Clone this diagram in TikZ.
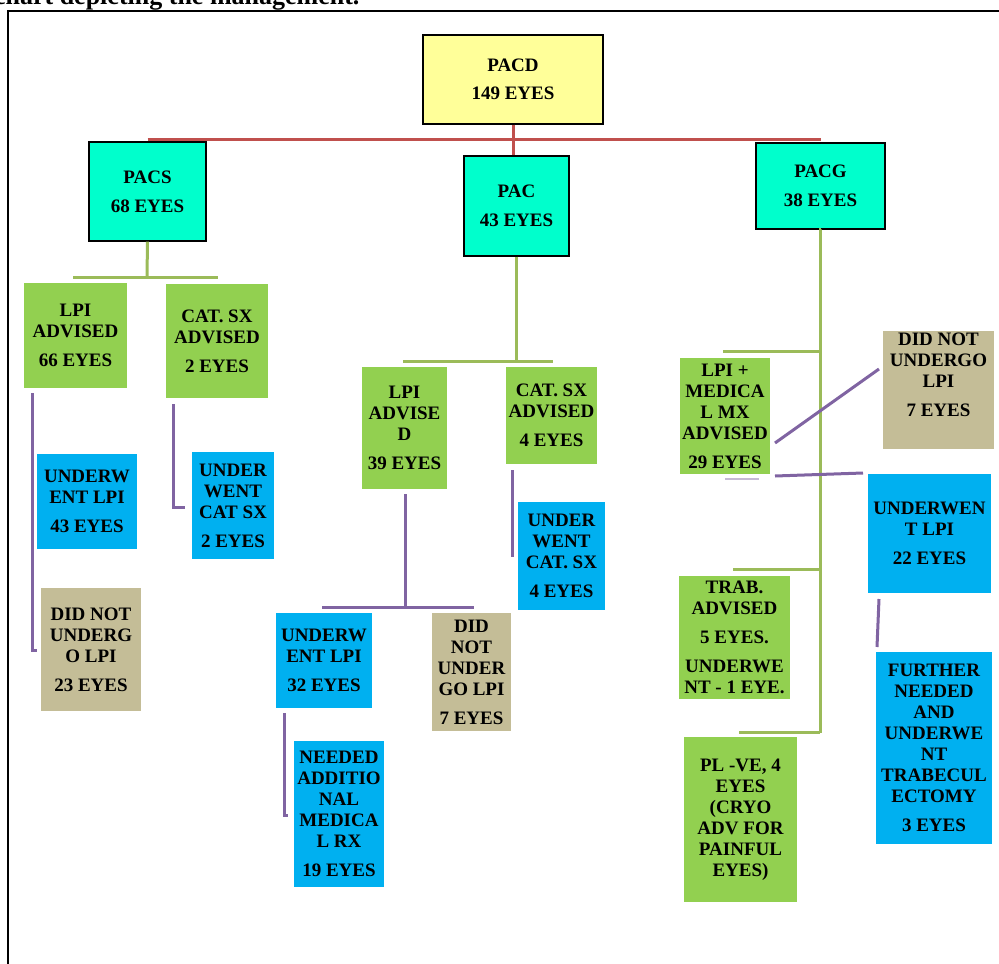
\documentclass[tikz,border=0pt]{standalone}
\usepackage{fontspec}
\setmainfont{Liberation Serif}
\usepackage{tikz}
\definecolor{PacdYel}{HTML}{FFFF99}
\definecolor{TopCyan}{HTML}{00FFCC}
\definecolor{AdvGreen}{HTML}{92D050}
\definecolor{DoneBlue}{HTML}{00B0F0}
\definecolor{NotTan}{HTML}{C4BD97}
\definecolor{RedLn}{HTML}{C0504D}
\definecolor{GrnLn}{HTML}{9BBB59}
\definecolor{PurLn}{HTML}{8064A2}
\newcommand{\flowfont}{\bfseries\fontsize{19}{21}\selectfont}
\tikzstyle{box} = [rectangle, inner sep=1pt, align=center, font=\flowfont]
\tikzstyle{topbox} = [box, draw=black, line width=1.2pt]
\tikzstyle{redln} = [draw=RedLn, line width=3pt]
\tikzstyle{grnln} = [draw=GrnLn, line width=3pt]
\tikzstyle{purln} = [draw=PurLn, line width=3pt]

\begin{document}
\begin{tikzpicture}[x=1pt,y=-1pt]
			\useasboundingbox (0,0) rectangle (999,964);
			\node[anchor=base east, font=\bfseries\fontsize{26}{28}\selectfont] (ttl) at (363,4) {Flow chart depicting the management.};
			\draw[line width=2pt] (8,980) -- (8,11) -- (1010,11);
			% top level
			\node[topbox, fill=PacdYel, minimum width=180, minimum height=89] (pacd) at (513,79.5) {PACD\\[7pt]149 EYES};
			\node[topbox, fill=TopCyan, minimum width=117, minimum height=99] (pacs) at (147.5,191.5) {PACS\\[8pt]68 EYES};
			\node[topbox, fill=TopCyan, minimum width=105, minimum height=100] (pac) at (516.5,206) {PAC\\[8pt]43 EYES};
			\node[topbox, fill=TopCyan, minimum width=129, minimum height=86] (pacg) at (820.5,186) {PACG\\[8pt]38 EYES};
			\coordinate (rbus) at (513,139);
			\draw[redln] (pacs.north |- rbus) -- (pacg.north |- rbus);
			\draw[redln] (pacd.south) -- (pacd.south |- pac.north);
			% PACS branch
			\node[box, fill=AdvGreen, minimum width=103, minimum height=105] (lpiA) at (75.5,335.5) {LPI\\ADVISED\\[8pt]66 EYES};
			\node[box, fill=AdvGreen, minimum width=102, minimum height=114] (catA) at (217,341) {CAT.\ SX\\ADVISED\\[8pt]2 EYES};
			\node[box, fill=DoneBlue, minimum width=100, minimum height=95] (ulpiA) at (87,501.5) {UNDERW\\ENT LPI\\[8pt]43 EYES};
			\node[box, fill=NotTan, minimum width=100, minimum height=123] (dnuA) at (91,649.5) {DID NOT\\UNDERG\\O LPI\\[8pt]23 EYES};
			\node[box, fill=DoneBlue, minimum width=82, minimum height=107] (ucatA) at (233,505.5) {UNDER\\WENT\\CAT SX\\[8pt]2 EYES};
			\coordinate (gA) at (147,277);
			\coordinate (gAl) at (73,277);
			\coordinate (gAr) at (218,277);
			\draw[grnln] (pacs.south) -- (gA);
			\draw[grnln] (gAl) -- (gAr);
			\coordinate (pA1) at (32,393);
			\coordinate (pA2) at (32,650);
			\draw[purln] (pA1) -- (pA2) -- ++(5,0);
			\coordinate (pA3) at (173,404);
			\coordinate (pA4) at (173,507);
			\draw[purln] (pA3) -- (pA4) -- ++(12,0);
			% PAC branch
			\node[box, fill=AdvGreen, minimum width=85, minimum height=122] (lpiB) at (404.5,428) {LPI\\ADVISE\\D\\[8pt]39 EYES};
			\node[box, fill=AdvGreen, minimum width=91, minimum height=97] (catB) at (551.5,415.5) {CAT.\ SX\\ADVISED\\[8pt]4 EYES};
			\node[box, fill=DoneBlue, minimum width=96, minimum height=95] (ulpiB) at (324,660.5) {UNDERW\\ENT LPI\\[8pt]32 EYES};
			\node[box, fill=NotTan, minimum width=79, minimum height=118] (dnuB) at (471.5,672) {DID\\NOT\\UNDER\\GO LPI\\[8pt]7 EYES};
			\node[box, fill=DoneBlue, minimum width=90, minimum height=146] (needB) at (339,814) {NEEDED\\ADDITIO\\NAL\\MEDICA\\L RX\\[8pt]19 EYES};
			\node[box, fill=DoneBlue, minimum width=87, minimum height=108] (ucatB) at (561.5,556) {UNDER\\WENT\\CAT.\ SX\\[8pt]4 EYES};
			\coordinate (gB) at (516,361);
			\coordinate (gBl) at (403,361);
			\coordinate (gBr) at (553,361);
			\draw[grnln] (pac.south) -- (pac.south |- gB);
			\draw[grnln] (gBl) -- (gBr);
			\coordinate (pB1) at (405,494);
			\coordinate (pB2) at (405,607);
			\coordinate (pBl) at (322,607);
			\coordinate (pBr) at (474,607);
			\draw[purln] (pB1) -- (pB2);
			\draw[purln] (pBl) -- (pBr);
			\coordinate (pB3) at (284,713);
			\coordinate (pB4) at (284,815);
			\draw[purln] (pB3) -- (pB4) -- ++(4,0);
			\coordinate (pB5) at (512,470);
			\coordinate (pB6) at (512,557);
			\draw[purln] (pB5) -- (pB6);
			% PACG branch
			\node[box, fill=AdvGreen, minimum width=90, minimum height=116] (lpiC) at (725,416) {LPI +\\MEDICA\\L MX\\ADVISED\\[8pt]29 EYES};
			\node[box, fill=NotTan, minimum width=111, minimum height=118] (dnuC) at (938.5,390) {DID NOT\\UNDERGO\\LPI\\[8pt]7 EYES\\[9pt]~};
			\node[box, fill=DoneBlue, minimum width=123, minimum height=119] (ulpiC) at (929.5,533.5) {UNDERWEN\\T LPI\\[8pt]22 EYES};
			\node[box, fill=DoneBlue, minimum width=116, minimum height=192] (furC) at (934,748) {FURTHER\\NEEDED\\AND\\UNDERWE\\NT\\TRABECUL\\ECTOMY\\[8pt]3 EYES};
			\node[box, fill=AdvGreen, minimum width=111, minimum height=123] (trabC) at (734.5,637.5) {TRAB.\\ADVISED\\[8pt]5 EYES.\\[8pt]UNDERWE\\NT - 1 EYE.};
			\node[box, fill=AdvGreen, minimum width=113, minimum height=165] (plC) at (740.5,819.5) {PL -VE, 4\\EYES\\(CRYO\\ADV FOR\\PAINFUL\\EYES)};
			\coordinate (gC) at (820,733);
			\draw[grnln] (pacg.south) -- (pacg.south -| gC) -- (gC);
			\coordinate (gC1) at (723,351);
			\coordinate (gC2) at (733,569);
			\coordinate (gC3) at (739,732);
			\draw[grnln] (gC1) -- (gC1 -| gC);
			\draw[grnln] (gC2) -- (gC2 -| gC);
			\draw[grnln] (gC3) -- (gC3 -| gC);
			\coordinate (pC1) at (775,443);
			\coordinate (pC2) at (879,369);
			\draw[purln] (pC1) -- (pC2);
			\coordinate (pC3) at (775,476);
			\coordinate (pC4) at (863,473);
			\draw[purln] (pC3) -- (pC4);
			\coordinate (pC5) at (725,479);
			\coordinate (pC6) at (759,479);
			\draw[draw=PurLn!45, line width=1.5pt] (pC5) -- (pC6);
			\coordinate (pC7) at (879,599);
			\coordinate (pC8) at (877,647);
			\draw[purln] (pC7) -- (pC8);
		\end{tikzpicture}
\end{document}
